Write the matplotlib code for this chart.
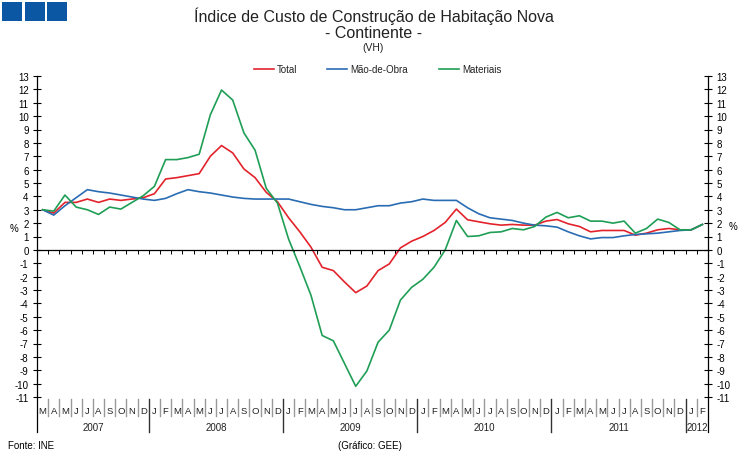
import matplotlib
matplotlib.use("Agg")
import matplotlib.pyplot as plt
from matplotlib.lines import Line2D
from matplotlib.patches import Rectangle
import numpy as np

plt.rcParams['font.family'] = ['Liberation Sans', 'DejaVu Sans']
plt.rcParams['axes.unicode_minus'] = False

# meses de Mar 2007 a Fev 2012
months = (["M", "A", "M", "J", "J", "A", "S", "O", "N", "D"]
          + ["J", "F", "M", "A", "M", "J", "J", "A", "S", "O", "N", "D"] * 4
          + ["J", "F"])
years = ["2007", "2008", "2009", "2010", "2011", "2012"]
year_len = [10, 12, 12, 12, 12, 2]

total = [3.0, 2.75, 3.55, 3.55, 3.8, 3.55, 3.8, 3.7, 3.8, 3.9,
         4.2, 5.3, 5.4, 5.55, 5.7, 7.0, 7.8, 7.25, 6.05, 5.4, 4.3, 3.6,
         2.4, 1.35, 0.2, -1.3, -1.55, -2.4, -3.2, -2.7, -1.55, -1.05, 0.15, 0.65,
         1.0, 1.45, 2.05, 3.05, 2.25, 2.1, 1.95, 1.85, 1.9, 1.85, 1.85, 2.15,
         2.27, 1.95, 1.75, 1.35, 1.45, 1.45, 1.45, 1.1, 1.25, 1.5, 1.6, 1.5,
         1.5, 1.9]
mao_obra = [3.0, 2.6, 3.3, 3.9, 4.5, 4.35, 4.25, 4.1, 3.95, 3.8,
            3.7, 3.85, 4.2, 4.5, 4.35, 4.25, 4.1, 3.95, 3.85, 3.8, 3.8, 3.8,
            3.8, 3.6, 3.4, 3.25, 3.15, 3.0, 3.0, 3.15, 3.3, 3.3, 3.5, 3.6,
            3.8, 3.7, 3.7, 3.7, 3.15, 2.7, 2.4, 2.3, 2.2, 2.0, 1.85, 1.8,
            1.7, 1.35, 1.05, 0.82, 0.92, 0.92, 1.05, 1.15, 1.2, 1.25, 1.35, 1.45,
            1.5, 1.9]
materiais = [3.0, 2.9, 4.1, 3.2, 3.0, 2.65, 3.2, 3.05, 3.55, 4.05,
             4.75, 6.75, 6.75, 6.9, 7.15, 10.1, 11.95, 11.2, 8.75, 7.45, 4.6, 3.5,
             0.8, -1.25, -3.4, -6.4, -6.8, -8.5, -10.2, -9.05, -6.9, -6.0, -3.75, -2.8,
             -2.2, -1.3, 0.0, 2.2, 1.0, 1.05, 1.3, 1.35, 1.6, 1.5, 1.75, 2.45,
             2.8, 2.4, 2.55, 2.15, 2.15, 2.0, 2.15, 1.25, 1.6, 2.3, 2.05, 1.5,
             1.5, 1.9]

c_total = '#e3232b'
c_mao = '#2a6cb3'
c_mat = '#1f9e55'

W, H = 747, 460
fig = plt.figure(figsize=(W / 100, H / 100), dpi=100)
ax = fig.add_axes([37 / W, 1 - 398 / H, (708 - 37) / W, (398 - 77) / H])

x = np.arange(len(total)) + 0.5
ax.plot(x, total, color=c_total, lw=1.2)
ax.plot(x, mao_obra, color=c_mao, lw=1.2)
ax.plot(x, materiais, color=c_mat, lw=1.2)

ax.set_xlim(0, len(total))
ax.set_ylim(-11, 13)
ax.set_yticks(range(-11, 14))
ax.tick_params(axis='y', direction='inout', length=6, width=0.8, labelsize=7,
               right=True, labelright=True, pad=3)
ax.spines['top'].set_visible(False)
ax.spines['bottom'].set_position(('data', 0))
ax.spines['left'].set_bounds(-13.6, 13)
ax.spines['right'].set_bounds(-13.6, 13)
for s in ['left', 'right', 'bottom']:
    ax.spines[s].set_linewidth(0.9)
ax.set_xticks(range(len(total) + 1))
ax.tick_params(axis='x', direction='out', length=3, width=0.7, labelbottom=False)

# rótulos dos meses e anos
tr = ax.get_xaxis_transform()
for i, m in enumerate(months):
    ax.text(i + 0.5, -0.043, m, transform=tr, ha='center', va='center',
            fontsize=6.8, color='#222222')
bounds = np.cumsum([0] + year_len)
for k in range(1, len(total)):
    if k in bounds:
        continue
    ax.plot([k, k], [-0.006, -0.058], transform=tr, color='#9a9a9a', lw=1.0,
            clip_on=False)
for k in bounds[1:-1]:
    ax.plot([k, k], [-0.006, -0.109], transform=tr, color='#333333', lw=1.0,
            clip_on=False)
for yr, a, b in zip(years, bounds[:-1], bounds[1:]):
    ax.text((a + b) / 2, -0.093, yr, transform=tr, ha='center', va='center',
            fontsize=7, color='#222222')

# títulos
fig.text(0.5, 1 - 16 / H, "Índice de Custo de Construção de Habitação Nova",
         ha='center', va='center', fontsize=11.5, color='#222222')
fig.text(0.5, 1 - 33 / H, "- Continente -", ha='center', va='center',
         fontsize=11.5, color='#222222')
fig.text(0.5, 1 - 48 / H, "(VH)", ha='center', va='center', fontsize=7.5,
         color='#222222')

# legenda
for (x0, x1, xt, lab, c) in [(254, 274, 277, "Total", c_total),
                             (327, 347, 350, "Mão-de-Obra", c_mao),
                             (439, 459, 462, "Materiais", c_mat)]:
    fig.lines.append(Line2D([x0 / W, x1 / W], [1 - 70 / H, 1 - 70 / H],
                            color=c, lw=1.2, transform=fig.transFigure))
    fig.text(xt / W, 1 - 70 / H, lab, ha='left', va='center', fontsize=7,
             color='#222222')

fig.text(14 / W, 1 - 229 / H, "%", ha='center', va='center', fontsize=7)
fig.text(733 / W, 1 - 227 / H, "%", ha='center', va='center', fontsize=7)

fig.text(8 / W, 1 - 446 / H, "Fonte: INE", ha='left', va='center', fontsize=7)
fig.text(370 / W, 1 - 446 / H, "(Gráfico: GEE)", ha='center', va='center',
         fontsize=7)

# logotipo
for lx in [2, 25, 47]:
    fig.patches.append(Rectangle((lx / W, 1 - 22 / H), 20 / W, 19 / H,
                                 facecolor='#0b57a4', edgecolor='none', lw=0,
                                 transform=fig.transFigure))

fig.savefig("out.png", dpi=100)
